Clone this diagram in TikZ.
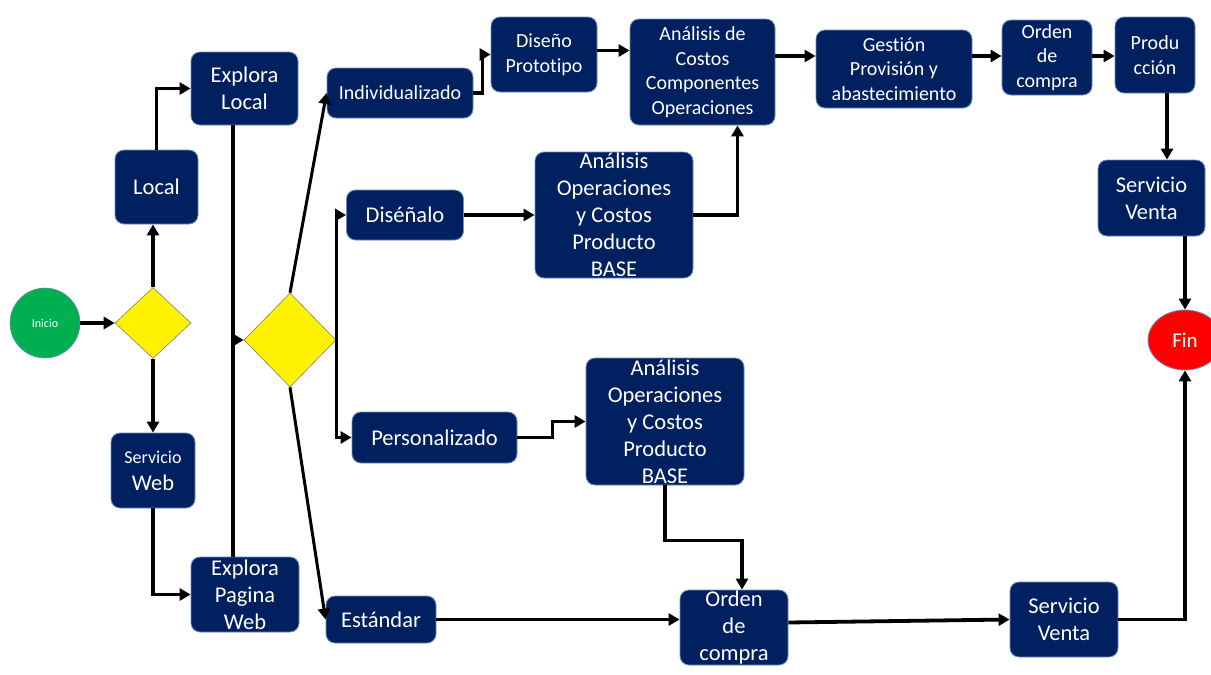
\documentclass[tikz,border=0pt]{standalone}
\usepackage{fontspec}
\setmainfont[Ligatures=NoCommon]{Carlito}
\usetikzlibrary{shapes.geometric,arrows.meta}
\definecolor{navy}{RGB}{0,32,96}
\definecolor{navyedge}{RGB}{110,140,190}
\definecolor{startgreen}{RGB}{0,176,80}
\tikzset{
  box/.style={rectangle, draw=navyedge, line width=0.8pt, fill=navy, rounded corners=9pt, text=white, align=center, inner sep=0pt, font=\fontsize{22.5}{27}\selectfont},
  smallbox/.style={box, font=\fontsize{20}{24.5}\selectfont},
  choice/.style={diamond, draw=gray, line width=0.6pt, fill=yellow, inner sep=0pt},
  flow/.style={line width=3.8pt, -{Triangle[length=11pt,width=12pt]}},
  wire/.style={line width=3.8pt}
}
\begin{document}
\begin{tikzpicture}[x=1pt, y=-1pt]
\useasboundingbox (0,0) rectangle (1211,675);
\clip (0,0) rectangle (1211,675);

\node (inicio) [circle, draw=navyedge, line width=0.6pt, fill=startgreen, text=white, minimum size=70pt, inner sep=0pt, font=\fontsize{12}{14}\selectfont] at (45,323) {Inicio};
\node (dec1) [choice, minimum width=76pt, minimum height=71pt] at (153,323) {};
\node (local) [box, minimum width=83pt, minimum height=74pt] at (156.5,187) {Local};
\node (exlocal) [box, minimum width=107pt, minimum height=73pt] at (244.5,88.5) {Explora\\Local};
\node (servweb) [box, minimum width=84pt, minimum height=75pt] at (153,470.5) {{\fontsize{18}{22}\selectfont Servicio}\\Web};
\node (exweb) [box, minimum width=108pt, minimum height=75pt] at (245,594.5) {Explora\\Pagina\\Web};
\node (dec2) [choice, minimum width=92pt, minimum height=94pt] at (290,340) {};

\node (indiv) [smallbox, minimum width=146pt, minimum height=50pt] at (400,93) {Individualizado};
\node (disenalo) [box, minimum width=117pt, minimum height=50pt] at (405,215) {Diséñalo};
\node (personal) [box, minimum width=165pt, minimum height=51pt] at (434.5,437.5) {Personalizado};
\node (estandar) [box, minimum width=110pt, minimum height=47pt] at (381,619.5) {Estándar};

\node (proto) [smallbox, minimum width=106pt, minimum height=75pt] at (544,54.5) {Diseño\\Prototipo};
\node (anacomp) [smallbox, minimum width=145pt, minimum height=106pt] at (702.5,72) {Análisis de\\Costos\\Componentes\\Operaciones};
\node (gestion) [smallbox, minimum width=156pt, minimum height=78pt] at (894,69) {Gestión\\Provisión y\\abastecimiento};
\node (ordensup) [smallbox, minimum width=90pt, minimum height=75pt] at (1047,57.5) {Orden\\de\\compra};
\node (produc) [smallbox, minimum width=80pt, minimum height=76pt] at (1155,55) {Produ\\cción};
\node (ventasup) [box, minimum width=107pt, minimum height=76pt] at (1151.5,198) {Servicio\\Venta};
\node (fin) [ellipse, draw=navyedge, line width=0.8pt, fill=red, text=white, minimum width=74pt, minimum height=60pt, inner sep=0pt, font=\fontsize{21}{25}\selectfont] at (1185,340) {Fin};

\node (anaprod1) [box, minimum width=158pt, minimum height=126pt] at (614,215) {Análisis\\Operaciones\\y Costos\\Producto\\BASE};
\node (anaprod2) [box, minimum width=158pt, minimum height=127pt] at (665,421.5) {Análisis\\Operaciones\\y Costos\\Producto\\BASE};
\node (ordeninf) [box, minimum width=108pt, minimum height=75pt] at (734,627.5) {Orden\\de\\compra};
\node (ventainf) [box, minimum width=108pt, minimum height=75pt] at (1064,619.5) {Servicio\\Venta};

\coordinate (bus) at (233,340);
\coordinate (toprow) at (0,56);
\coordinate (rcol) at (1167,0);

\draw[flow] (inicio) -- (dec1);
\draw[flow] (dec1.north) -- (dec1.north |- local.south);
\draw[flow] (local.north) |- (exlocal.west);
\draw[flow] (dec1.south) -- (dec1.south |- servweb.north);
\draw[flow] (servweb.south) |- (exweb.west);
\draw[wire] (bus |- exlocal.south) -- (bus |- exweb.north);
\draw[flow] (bus) -- (dec2.west);
\draw[flow, line width=3pt] (dec2.north) -- (indiv.west);
\draw[flow, line width=3pt] (dec2.east) |- (disenalo.west);
\draw[flow, line width=3pt] (dec2.east) |- (personal.west);
\draw[flow, line width=3pt] (dec2.south) -- (estandar.west);

\draw[flow] (indiv.east) -- ++(9,0) |- (proto.west);
\draw[flow] ([yshift=4]proto.east) -- ([yshift=4]proto.east -| anacomp.west);
\draw[flow] (anacomp.east |- toprow) -- (gestion.west |- toprow);
\draw[flow] (gestion.east |- toprow) -- (ordensup.west |- toprow);
\draw[flow] (ordensup.east |- toprow) -- (produc.west |- toprow);
\draw[flow] (rcol |- produc.south) -- (rcol |- ventasup.north);
\draw[flow] (fin.north |- ventasup.south) -- (fin.north);

\draw[flow] (disenalo) -- (anaprod1);
\draw[flow] (anaprod1.east) -| ([xshift=35]anacomp.south);
\draw[flow] (personal.east) -- ++(35,0) |- (anaprod2.west);
\draw[flow] (anaprod2.south) -- ++(0,55) -| ([xshift=8]ordeninf.north);
\draw[flow] (estandar.east) -- (estandar.east -| ordeninf.west);
\draw[flow] ([yshift=5]ordeninf.east) -- (ventainf.west);
\draw[flow] (ventainf.east) -| (fin.south);

\end{tikzpicture}
\end{document}
